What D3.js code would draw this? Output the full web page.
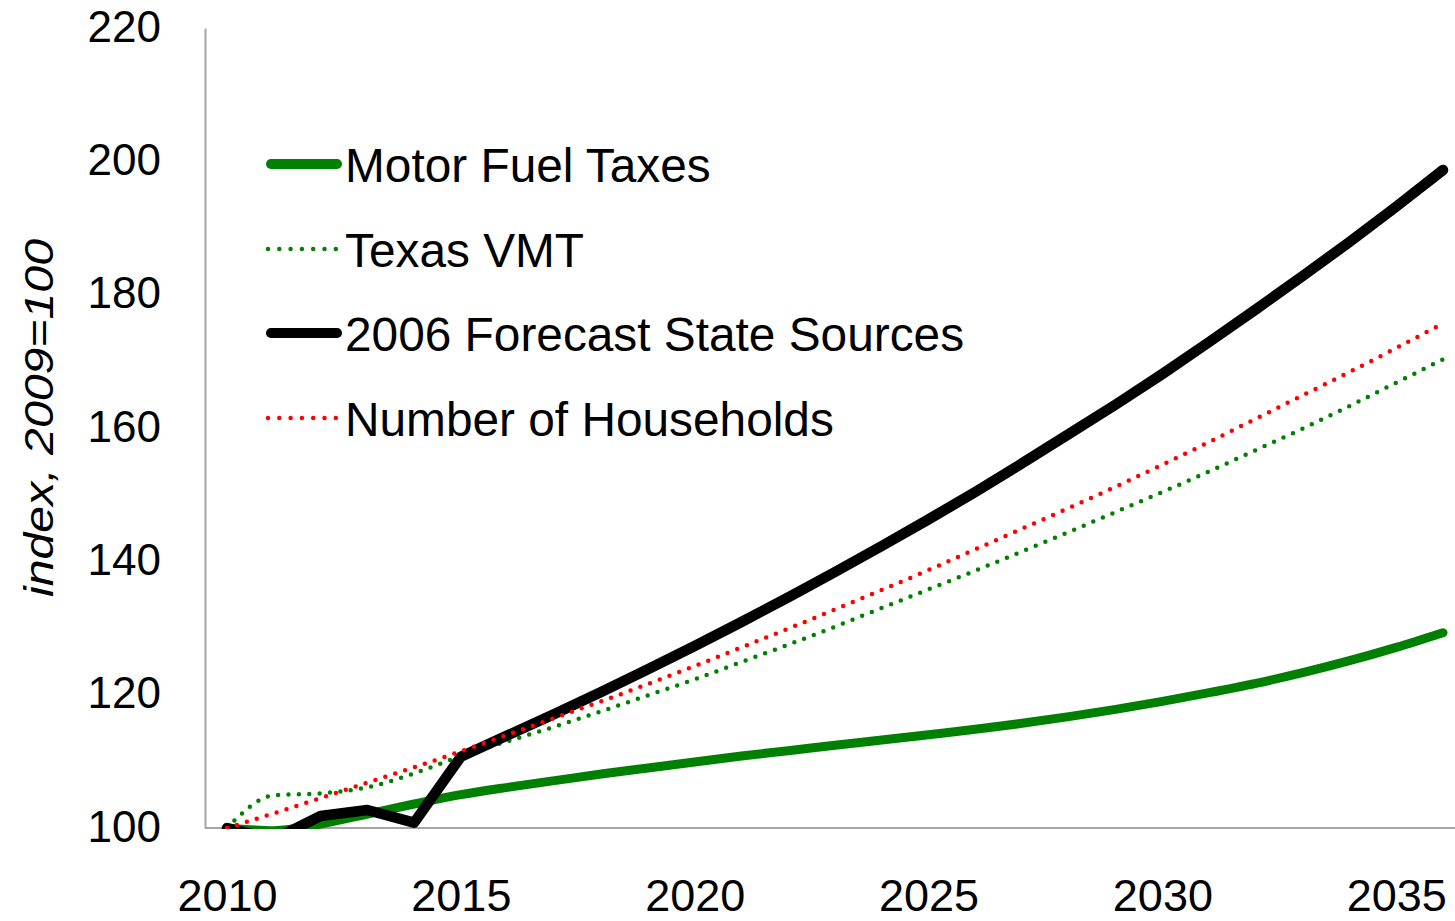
<!DOCTYPE html>
<html>
<head>
<meta charset="utf-8">
<script src="https://cdn.jsdelivr.net/npm/d3@7"></script>
<style>
  body { margin: 0; background: #fff; }
  text { font-family: "Liberation Sans", Arial, sans-serif; fill: #000; }
</style>
</head>
<body>
<div id="chart"></div>
<script>
var svgW = 1455;
var svgH = 921;

// years on the x axis
var years = d3.range(2010, 2037);
var xTicks = [2010, 2015, 2020, 2025, 2030, 2035];
var yTicks = [100, 120, 140, 160, 180, 200, 220];

// index values, 2009=100
var motorFuel = [100, 99.6, 100.6, 102.1, 103.6, 105.0, 106.1, 107.1, 108.1, 109.0, 109.9,
    110.8, 111.6, 112.4, 113.2, 114.0, 114.8, 115.7, 116.7, 117.8, 119.0,
    120.3, 121.7, 123.3, 125.1, 127.1, 129.3];
var texasVMT = [100, 104.9, 105.2, 106.1, 108.2, 110.8, 113.0, 115.2, 117.5, 119.9, 122.3,
    124.9, 127.5, 130.2, 133.0, 135.8, 138.6, 141.5, 144.4, 147.4, 150.4,
    153.5, 156.7, 159.9, 163.3, 166.8, 170.3];
var forecast2006 = [100, 98.3, 101.8, 102.7, 100.8, 110.7, 113.9, 117.1, 120.4, 123.8, 127.3,
    130.9, 134.6, 138.4, 142.3, 146.3, 150.4, 154.7, 159.1, 163.5, 168.1,
    172.9, 177.8, 182.8, 187.9, 193.2, 198.7];
var households = [100, 102.2, 104.5, 106.8, 109.1, 111.5, 114.0, 116.5, 119.0, 121.6, 124.3,
    127.1, 129.9, 132.8, 135.7, 138.7, 141.8, 144.9, 148.0, 151.2, 154.5,
    157.9, 161.4, 164.9, 168.4, 172.0, 175.7];

var series = [
    {name: "Motor Fuel Taxes", values: motorFuel, color: "#008000", width: 9, dotted: false, smooth: true},
    {name: "Texas VMT", values: texasVMT, color: "#008000", width: 4.5, dotted: true, smooth: true},
    {name: "2006 Forecast State Sources", values: forecast2006, color: "#000000", width: 10.5, dotted: false, smooth: false},
    {name: "Number of Households", values: households, color: "#ff0000", width: 4.5, dotted: true, smooth: true}
];

var plotLeft = 205, plotRight = 1455;

var x = d3.scaleLinear().domain([2010, 2036]).range([227, 1443]);
var y = d3.scaleLinear().domain([100, 220]).range([828, 28]);

var svg = d3.select("#chart")
    .append("svg")
    .attr("width", svgW)
    .attr("height", svgH);

svg.append("defs").append("clipPath")
    .attr("id", "plotclip")
    .append("rect")
    .attr("x", plotLeft)
    .attr("y", 0)
    .attr("width", plotRight - plotLeft)
    .attr("height", y(100) + 1);

// y axis
var yAxis = svg.append("g")
    .attr("transform", `translate(${plotLeft}, 0)`)
    .call(d3.axisLeft(y).tickValues(yTicks).tickSize(0).tickSizeOuter(0).tickPadding(44));
yAxis.select(".domain").attr("stroke", "#a6a6a6").attr("stroke-width", 2);
yAxis.selectAll("text")
    .style("font-family", "Liberation Sans, Arial, sans-serif")
    .style("font-size", "44px")
    .attr("dy", "0.3em")
    .attr("fill", "#000");

// x axis
var xAxis = svg.append("g")
    .attr("transform", `translate(0, ${y(100)})`)
    .call(d3.axisBottom(x).tickValues(xTicks).tickFormat(d3.format("d")).tickSize(0).tickPadding(83));
xAxis.select(".domain").remove();
xAxis.selectAll("text")
    .style("font-family", "Liberation Sans, Arial, sans-serif")
    .style("font-size", "45px")
    .attr("dy", "0")
    .attr("fill", "#000");
svg.append("line")
    .attr("x1", plotLeft)
    .attr("x2", plotRight)
    .attr("y1", y(100))
    .attr("y2", y(100))
    .attr("stroke", "#a6a6a6")
    .attr("stroke-width", 2);

// y title
svg.append("text")
    .attr("transform", "translate(53, 418) rotate(-90)")
    .attr("text-anchor", "middle")
    .attr("textLength", 358)
    .attr("lengthAdjust", "spacingAndGlyphs")
    .style("font-size", "40px")
    .style("font-style", "italic")
    .text("index, 2009=100");

// lines
var lines = svg.append("g").attr("clip-path", "url(#plotclip)");
series.forEach(function (s) {
    var line = d3.line()
        .x((d, i) => x(years[i]))
        .y(d => y(d))
        .curve(s.smooth ? d3.curveMonotoneX : d3.curveLinear);
    var p = lines.append("path")
        .datum(s.values)
        .attr("d", line)
        .attr("fill", "none")
        .attr("stroke", s.color)
        .attr("stroke-width", s.width)
        .attr("stroke-linecap", "round")
        .attr("stroke-linejoin", "round");
    if (s.dotted) p.attr("stroke-dasharray", "0 10.4");
});

// legend
var legendY = [164, 249, 333, 418];
series.forEach(function (s, i) {
    var ly = legendY[i];
    var l = svg.append("line")
        .attr("x1", s.dotted ? 268 : 271)
        .attr("x2", s.dotted ? 336 : 337)
        .attr("y1", ly)
        .attr("y2", ly)
        .attr("stroke", s.color)
        .attr("stroke-width", s.dotted ? 4.5 : 10)
        .attr("stroke-linecap", "round");
    if (s.dotted) l.attr("stroke-dasharray", "0 11.3");
    svg.append("text")
        .attr("x", 345)
        .attr("y", ly + 18)
        .style("font-size", "47.8px")
        .text(s.name);
});
</script>
</body>
</html>
